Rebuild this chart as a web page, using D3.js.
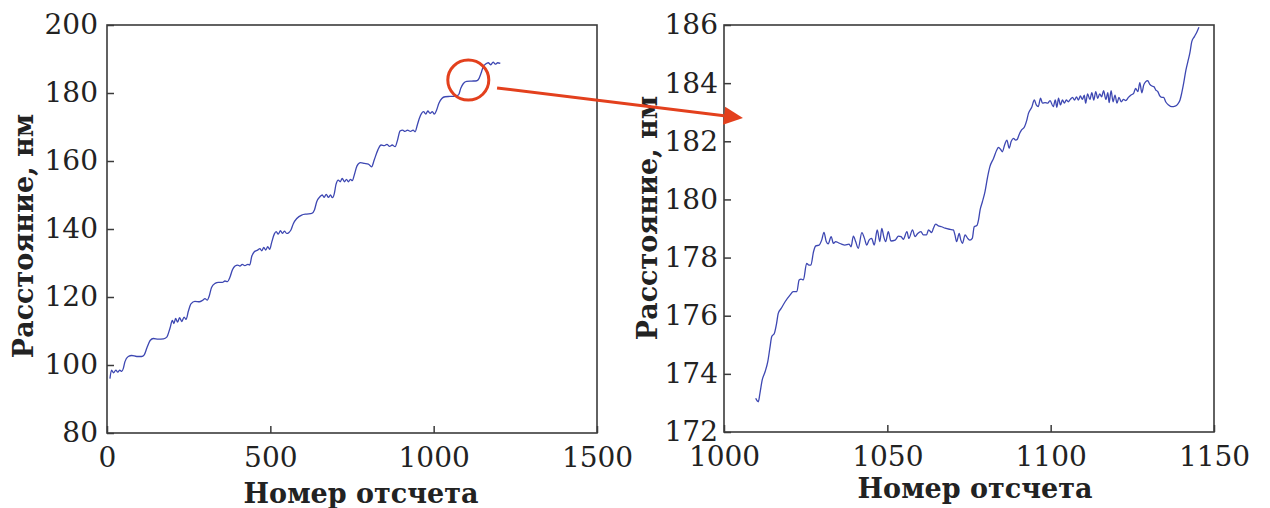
<!DOCTYPE html>
<html>
<head>
<meta charset="utf-8">
<script src="https://cdn.jsdelivr.net/npm/d3@7"></script>
<style>
  html, body { margin: 0; padding: 0; background: #fff; }
  svg { display: block; }
</style>
</head>
<body>
<div id="chart"></div>
<script>
// overview: full record (sample number, distance in nm)
const ovSample = [9,14,20,27,33,39,45,50,55,65,76,91,106,114,122,132,142,157,173,183,
  193,200,205,210,216,222,229,236,242,249,257,269,283,292,300,307,313,320,331,341,
  353,361,369,376,384,392,400,407,414,422,431,437,443,451,461,468,474,480,486,492,
  498,504,512,518,524,531,537,543,550,557,563,570,581,596,611,627,635,642,652,659,
  665,671,678,684,690,696,701,708,714,720,727,733,739,745,751,757,765,776,788,800,
  810,818,829,839,849,857,865,873,882,889,897,905,912,920,929,937,943,950,956,963,
  969,976,982,989,996,1002,1009,1016,1025,1035,1050,1065,1076,1083,1091,1101,1116,1132,1139,1145,
  1152,1159,1167,1175,1182,1189,1196,1204];
const ovDist = [96.0,98.5,97.7,98.5,97.9,98.5,98.1,99.0,101.0,102.5,102.8,102.5,102.5,103.0,105.0,107.2,107.8,107.6,107.7,108.2,
  110.9,113.1,112.2,113.7,112.6,113.9,112.8,114.1,113.4,115.8,118.0,118.7,118.6,119.0,119.5,119.1,120.3,122.8,124.0,124.3,
  124.3,124.7,124.5,125.7,128.0,129.1,129.4,129.1,129.6,129.2,129.6,129.4,131.9,133.3,133.8,134.2,133.6,134.6,133.8,134.8,
  134.0,136.0,138.5,139.2,138.5,139.5,138.7,139.4,138.7,139.0,139.7,141.5,143.1,144.1,144.4,144.6,145.6,148.0,149.5,150.0,
  149.3,150.2,149.3,150.0,149.2,150.5,153.1,154.4,153.9,154.9,153.9,154.6,153.9,154.6,154.2,155.9,158.5,159.5,159.3,159.1,
  158.3,160.3,163.2,164.7,164.5,164.9,164.3,164.7,164.2,166.0,168.8,169.1,168.7,169.1,168.7,169.1,168.6,170.6,172.5,174.0,
  174.5,173.8,174.7,174.0,174.5,173.8,175.0,177.0,178.4,178.9,179.0,179.1,179.4,181.4,182.8,183.4,183.5,183.6,184.3,185.8,
  187.8,188.5,188.9,188.3,189.1,188.5,188.9,188.7];

// detail: the zoomed stretch
const detSample = [1009.7,1010.5,1011.0,1011.7,1012.6,1013.4,1014.1,1014.6,1015.4,1016.1,
  1016.6,1017.5,1018.7,1020.2,1021.2,1022.3,1023.0,1023.6,1024.3,1025.3,
  1026.0,1026.6,1027.4,1028.1,1029.1,1029.9,1030.6,1031.3,1031.9,1032.8,
  1033.5,1034.2,1035.0,1036.0,1037.0,1038.3,1038.9,1039.6,1040.3,1041.1,
  1042.2,1043.0,1043.7,1044.4,1045.2,1046.0,1046.9,1047.7,1048.3,1048.9,
  1049.5,1050.3,1051.1,
  1052.4,1053.4,1054.2,1054.9,1056.0,1056.6,1057.7,1058.5,1059.3,1060.3,
  1061.0,1062.0,1062.6,1063.6,1064.1,1064.8,1065.6,1066.6,1067.7,1069.2,
  1070.2,1070.7,1071.2,1072.0,1072.5,1073.0,1073.8,1074.6,1075.3,1076.0,
  1076.6,1077.4,1077.9,1078.4,1079.1,1079.9,1080.7,1081.4,1082.5,1083.5,
  1084.0,1084.8,1085.2,1086.0,1086.6,1087.3,1087.9,1088.6,1089.3,1089.8,
  1090.3,1091.1,1092.0,1092.7,1093.2,1094.2,1095.0,1095.6,1096.2,1096.9,
  1097.5,1098.3,1099.1,1099.8,1100.8,
  1101.4,1101.9,1102.4,1103.0,1103.6,1104.2,1104.8,1105.4,1106.0,1106.7,
  1107.3,1107.9,1108.5,1109.1,1109.7,1110.3,1110.7,1111.3,1112.0,1112.6,
  1113.2,1113.8,1114.4,1115.0,1115.6,1116.2,1116.9,1117.5,1117.9,1118.5,
  1119.1,1119.7,1120.3,1120.9,1121.6,1122.3,1123.0,1123.8,1124.6,1125.4,
  1126.0,1126.7,1127.3,1127.9,1128.5,1129.1,1129.7,1130.3,1131.0,1131.6,
  1132.2,1132.8,1133.4,1134.0,1134.6,1135.2,1136.1,1137.1,1138.1,1138.9,
  1139.6,1140.1,1140.7,1141.4,1142.0,1142.6,1143.2,1144.0,1144.8,1145.4];
const detDist = [173.16,173.04,173.33,173.79,174.08,174.42,174.93,175.28,175.39,175.74,
  176.08,176.25,176.48,176.71,176.83,176.83,177.23,177.26,177.23,177.80,
  177.74,177.74,178.20,178.40,178.43,178.60,178.87,178.55,178.47,178.72,
  178.49,178.55,178.51,178.46,178.43,178.46,178.37,178.74,178.55,178.32,
  178.86,178.66,178.43,178.60,178.66,178.43,178.95,178.55,179.00,178.72,
  178.55,178.89,178.57,
  178.60,178.74,178.72,178.63,178.89,178.66,178.95,178.72,178.83,178.89,
  178.78,178.78,178.95,178.86,179.01,179.15,179.09,179.06,179.01,178.97,
  178.95,178.78,178.55,178.83,178.60,178.49,178.78,178.66,178.60,178.66,
  179.06,179.10,179.29,179.64,179.92,180.27,180.78,181.13,181.41,181.70,
  181.79,181.70,181.64,181.91,182.04,181.76,181.99,182.10,182.04,182.07,
  182.22,182.39,182.50,182.73,182.96,183.17,183.42,183.25,183.19,183.48,
  183.31,183.33,183.31,183.40,183.19,
  183.42,183.17,183.48,183.25,183.42,183.31,183.42,183.36,183.44,183.51,
  183.42,183.53,183.42,183.56,183.44,183.59,183.31,183.63,183.44,183.67,
  183.42,183.71,183.48,183.63,183.53,183.74,183.44,183.67,183.33,183.74,
  183.36,183.59,183.31,183.51,183.36,183.44,183.40,183.51,183.59,183.65,
  183.82,183.71,184.02,183.67,183.94,184.05,184.09,183.97,183.90,183.88,
  183.76,183.71,183.56,183.51,183.51,183.36,183.25,183.19,183.21,183.28,
  183.42,183.65,183.99,184.45,184.74,185.03,185.43,185.60,185.77,185.92];

const ovXTicks = [0, 500, 1000, 1500];
const ovYTicks = [80, 100, 120, 140, 160, 180, 200];
const detXTicks = [1000, 1050, 1100, 1150];
const detYTicks = [172, 174, 176, 178, 180, 182, 184, 186];

const xTitle = "Номер отсчета";
const yTitle = "Расстояние, нм";

// where the zoomed region is marked (overview data units) and where the arrow lands (detail data units)
const markCenter = [1106, 183.8];
const arrowFrom = [1194, 181.5];
const arrowTo = [1005.8, 182.8];

const W = 1270, H = 508;
const FONT = "'DejaVu Serif', 'Liberation Serif', serif";
const LINE = "#3d47b2", FRAME = "#3b3b3b", RED = "#e3401d";

const svg = d3.select("#chart").append("svg").attr("width", W).attr("height", H)
  .style("background", "#fff");

function panel(opt) {
  const x = d3.scaleLinear().domain(opt.xDomain).range(opt.xRange);
  const y = d3.scaleLinear().domain(opt.yDomain).range(opt.yRange);
  const g = svg.append("g");

  const xa = g.append("g").attr("transform", `translate(0,${opt.yRange[0]})`)
    .call(d3.axisBottom(x).tickValues(opt.xTicks).tickFormat(d3.format("d"))
      .tickSizeInner(-7).tickSizeOuter(0).tickPadding(14));
  const ya = g.append("g").attr("transform", `translate(${opt.xRange[0]},0)`)
    .call(d3.axisLeft(y).tickValues(opt.yTicks).tickFormat(d3.format("d"))
      .tickSizeInner(-7).tickSizeOuter(0).tickPadding(opt.yPad));
  [xa, ya].forEach(a => {
    a.select(".domain").remove();
    a.selectAll("line").attr("stroke", FRAME).attr("stroke-width", 1.5);
    a.selectAll("text").attr("font-family", FONT).attr("font-size", 28).attr("fill", "#222");
  });

  g.append("rect")
    .attr("x", opt.xRange[0]).attr("y", opt.yRange[1])
    .attr("width", opt.xRange[1] - opt.xRange[0]).attr("height", opt.yRange[0] - opt.yRange[1])
    .attr("fill", "none").attr("stroke", FRAME).attr("stroke-width", 1.6);

  const line = d3.line().x(d => x(d[0])).y(d => y(d[1])).curve(d3.curveMonotoneX);
  g.append("path").datum(d3.zip(opt.xs, opt.ys))
    .attr("d", line).attr("fill", "none").attr("stroke", LINE).attr("stroke-width", 1.3);

  g.append("text").attr("x", opt.xTitlePos[0]).attr("y", opt.xTitlePos[1])
    .attr("text-anchor", "middle").attr("font-family", FONT).attr("font-weight", "bold")
    .attr("font-size", 27).attr("fill", "#222").text(xTitle);
  g.append("text").attr("transform", `translate(${opt.yTitlePos[0]},${opt.yTitlePos[1]}) rotate(-90)`)
    .attr("text-anchor", "middle").attr("font-family", FONT).attr("font-weight", "bold")
    .attr("font-size", 27).attr("fill", "#222").text(yTitle);
  return { x, y };
}

const ov = panel({
  xDomain: [0, 1500], yDomain: [80, 200], xRange: [107, 597], yRange: [433, 25],
  xTicks: ovXTicks, yTicks: ovYTicks, yPad: 9, xs: ovSample, ys: ovDist,
  xTitlePos: [361, 503], yTitlePos: [33, 236]
});
const det = panel({
  xDomain: [1000, 1150], yDomain: [172, 186], xRange: [724, 1214], yRange: [432, 25],
  xTicks: detXTicks, yTicks: detYTicks, yPad: 6, xs: detSample, ys: detDist,
  xTitlePos: [975, 498], yTitlePos: [657, 218]
});

// red marker circle and arrow
svg.append("ellipse")
  .attr("cx", ov.x(markCenter[0])).attr("cy", ov.y(markCenter[1]))
  .attr("rx", 20.5).attr("ry", 20)
  .attr("fill", "none").attr("stroke", RED).attr("stroke-width", 3);

const p0 = [ov.x(arrowFrom[0]), ov.y(arrowFrom[1])];
const p1 = [det.x(arrowTo[0]), det.y(arrowTo[1])];
const ang = Math.atan2(p1[1] - p0[1], p1[0] - p0[0]);
const headLen = 19, headHalf = 9;
const base = [p1[0] - headLen * Math.cos(ang), p1[1] - headLen * Math.sin(ang)];
svg.append("line")
  .attr("x1", p0[0]).attr("y1", p0[1]).attr("x2", base[0]).attr("y2", base[1])
  .attr("stroke", RED).attr("stroke-width", 3);
svg.append("path")
  .attr("d", d3.line()([
    p1,
    [base[0] + headHalf * Math.sin(ang), base[1] - headHalf * Math.cos(ang)],
    [base[0] - headHalf * Math.sin(ang), base[1] + headHalf * Math.cos(ang)]
  ]) + "Z")
  .attr("fill", RED);
</script>
</body>
</html>
